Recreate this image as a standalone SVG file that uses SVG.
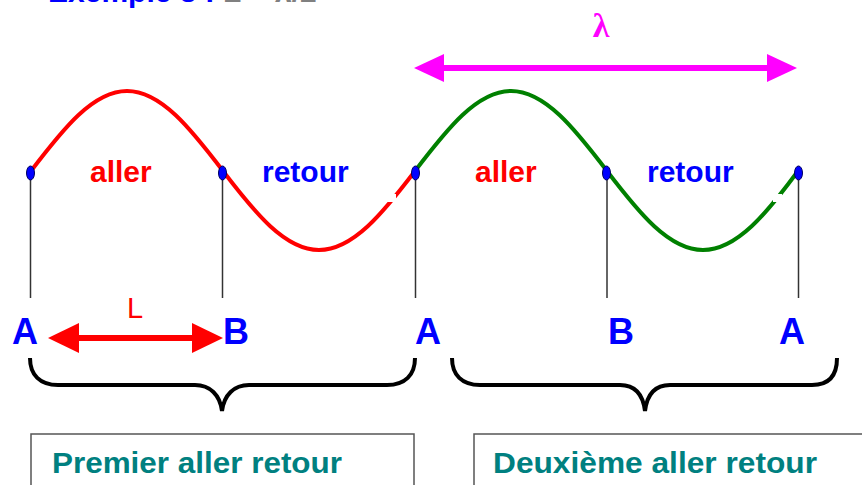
<svg xmlns="http://www.w3.org/2000/svg" width="862" height="485" viewBox="0 0 862 485">
<style>
.lbl{font-family:"Liberation Sans",Arial,sans-serif;font-weight:bold}
.pt{font-family:"Liberation Sans",Arial,sans-serif;font-weight:bold;font-size:36px;fill:#0000ff;text-anchor:middle}
.stem{stroke:#333;stroke-width:1.5}
.dot{fill:#0000ff;stroke:#000060;stroke-width:1}
.brace{fill:none;stroke:#000;stroke-width:4}
.box{fill:#fff;stroke:#555;stroke-width:1.5}
.title{font-family:"Liberation Sans",Arial,sans-serif;font-weight:bold;font-size:30px;fill:#008080}
</style>
<defs>
<marker id="hRed" markerUnits="userSpaceOnUse" markerWidth="32" markerHeight="30" viewBox="0 0 31 30" refX="0" refY="15" orient="auto-start-reverse"><path d="M0,0 L31,15 L0,30 z" fill="#ff0000"/></marker>
<marker id="hMag" markerUnits="userSpaceOnUse" markerWidth="32" markerHeight="30" viewBox="0 0 30 30" refX="0" refY="15" orient="auto-start-reverse"><path d="M0,1 L30,15 L0,29 z" fill="#ff00ff"/></marker>
</defs>
<rect width="862" height="485" fill="#fff"/>
<text class="lbl" x="48" y="1.6" font-size="30"><tspan fill="#0000ff">Exemple 3 :</tspan><tspan fill="#808080"> L = λ/2</tspan></text>

<g id="connectors">
<path id="wave1" d="M31,171 C63,129 93,91 127,91 C161,91 191,129 223,171 C255,213 285,250 319,250 C353,250 383,213 415,171" fill="none" stroke="#ff0000" stroke-width="4"/>
<path id="wave2" d="M415,171 C447,129 477,91 511,91 C545,91 575,129 607,171 C639,213 669,250 703,250 C737,250 767,213 798,171" fill="none" stroke="#008000" stroke-width="4"/>
<rect x="387" y="194" width="9" height="8" fill="#fff"/>
<rect x="773" y="194" width="9" height="8" fill="#fff"/>
<line id="arrowL" x1="79" y1="338" x2="192" y2="338" stroke="#ff0000" stroke-width="6" marker-start="url(#hRed)" marker-end="url(#hRed)"/>
<line id="arrowLambda" x1="444" y1="68" x2="767" y2="68" stroke="#ff00ff" stroke-width="6" marker-start="url(#hMag)" marker-end="url(#hMag)"/>
<path id="brace1" class="brace" d="M30,358 C30,375 40,385 58,385 L195,385 C210,385 220,395 222,411 C224,395 234,385 249,385 L387,385 C405,385 415,375 415,358"/>
<path id="brace2" class="brace" d="M452,358 C452,375 462,385 480,385 L620,385 C635,385 643,395 645,411 C647,395 655,385 670,385 L812,385 C830,385 837,375 837,358"/>
</g>

<g id="labels">
<text class="lbl" x="90" y="182" font-size="30" fill="#ff0000">aller</text>
<text class="lbl" x="262" y="182" font-size="30" fill="#0000ff">retour</text>
<text class="lbl" x="475" y="182" font-size="30" fill="#ff0000">aller</text>
<text class="lbl" x="647" y="182" font-size="30" fill="#0000ff">retour</text>
<text x="127" y="318" font-family="Liberation Sans,Arial,sans-serif" font-size="29" fill="#ff0000">L</text>
<text x="601" y="37" font-family="Liberation Serif,Times New Roman,serif" font-weight="bold" font-size="34" fill="#ff00ff" text-anchor="middle">λ</text>
</g>

<g id="nodeA1"><line class="stem" x1="30.5" y1="178" x2="30.5" y2="298"/><ellipse class="dot" cx="30.5" cy="173" rx="4" ry="7"/><text class="pt" x="25" y="344">A</text></g>
<g id="nodeB1"><line class="stem" x1="222.5" y1="178" x2="222.5" y2="298"/><ellipse class="dot" cx="222.5" cy="173" rx="4" ry="7"/><text class="pt" x="236" y="344">B</text></g>
<g id="nodeA2"><line class="stem" x1="415.5" y1="178" x2="415.5" y2="298"/><ellipse class="dot" cx="415.5" cy="173" rx="4" ry="7"/><text class="pt" x="428" y="344">A</text></g>
<g id="nodeB2"><line class="stem" x1="607" y1="178" x2="607" y2="298"/><ellipse class="dot" cx="606.5" cy="173" rx="4" ry="7"/><text class="pt" x="621" y="344">B</text></g>
<g id="nodeA3"><line class="stem" x1="798.5" y1="178" x2="798.5" y2="298"/><ellipse class="dot" cx="798.5" cy="173" rx="4" ry="7"/><text class="pt" x="792" y="344">A</text></g>

<g id="box1"><rect class="box" x="31" y="434" width="383" height="70"/><text class="title" x="52" y="473" textLength="290" lengthAdjust="spacingAndGlyphs">Premier aller retour</text></g>
<g id="box2"><rect class="box" x="474" y="434" width="400" height="70"/><text class="title" x="493" y="473" textLength="324" lengthAdjust="spacingAndGlyphs">Deuxième aller retour</text></g>
</svg>
